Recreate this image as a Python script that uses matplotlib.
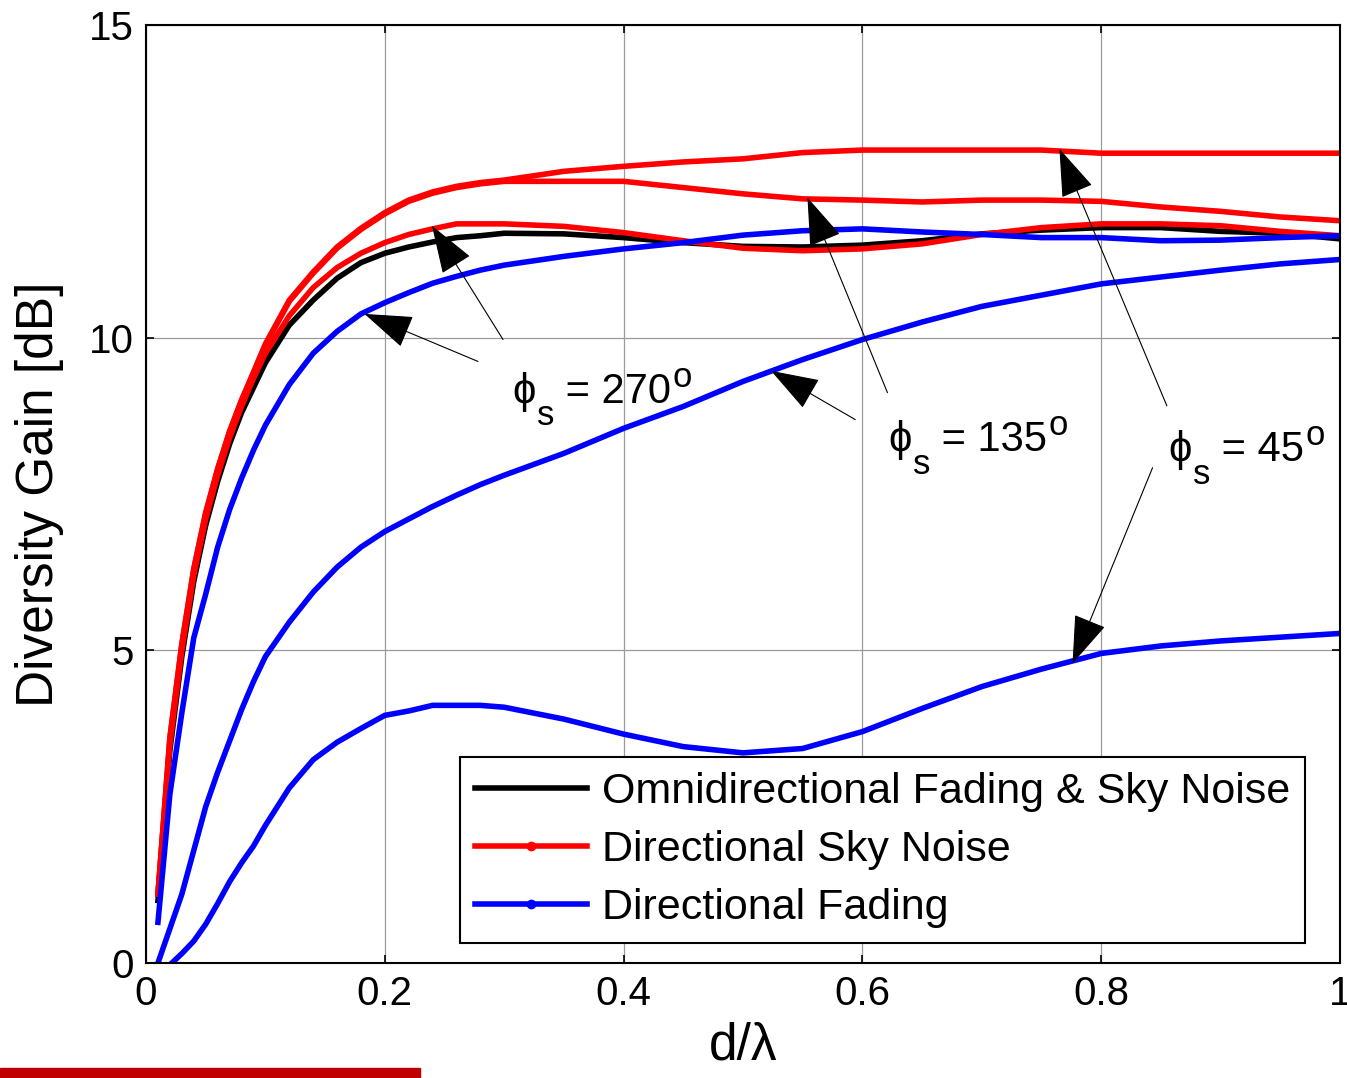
import matplotlib
matplotlib.use("Agg")
import matplotlib.pyplot as plt
from matplotlib.lines import Line2D
from matplotlib.patches import Rectangle

plt.rcParams['font.family'] = ['Liberation Sans', 'DejaVu Sans']

# d/lambda sample points
d_lam = [0.01, 0.02, 0.03, 0.04, 0.05, 0.06, 0.07, 0.08, 0.09, 0.10,
         0.12, 0.14, 0.16, 0.18, 0.20, 0.22, 0.24, 0.26, 0.28, 0.30,
         0.35, 0.40, 0.45, 0.50, 0.55, 0.60, 0.65, 0.70, 0.75, 0.80,
         0.85, 0.90, 0.95, 1.00]

# diversity gain [dB]
omni = [1.0, 3.4, 4.9, 6.1, 7.0, 7.7, 8.3, 8.8, 9.2, 9.6,
        10.2, 10.6, 10.95, 11.2, 11.35, 11.45, 11.53, 11.6, 11.63, 11.67,
        11.66, 11.6, 11.52, 11.46, 11.45, 11.48, 11.55, 11.66, 11.72, 11.76,
        11.76, 11.7, 11.67, 11.58]

sky_45 = [1.1, 3.6, 5.1, 6.3, 7.2, 7.9, 8.5, 9.0, 9.45, 9.9,
          10.6, 11.05, 11.45, 11.75, 12.0, 12.2, 12.33, 12.42, 12.48, 12.52,
          12.66, 12.74, 12.81, 12.86, 12.96, 13.0, 13.0, 13.0, 13.0, 12.95,
          12.95, 12.95, 12.95, 12.95]
sky_135 = [1.1, 3.6, 5.1, 6.3, 7.2, 7.9, 8.5, 9.0, 9.43, 9.88,
           10.58, 11.03, 11.43, 11.73, 11.98, 12.18, 12.31, 12.4, 12.46, 12.5,
           12.5, 12.5, 12.4, 12.3, 12.22, 12.2, 12.17, 12.2, 12.2, 12.18,
           12.09, 12.02, 11.93, 11.87]
sky_270 = [1.1, 3.5, 5.0, 6.2, 7.1, 7.8, 8.4, 8.9, 9.35, 9.75,
           10.35, 10.8, 11.12, 11.35, 11.52, 11.65, 11.74, 11.82, 11.82, 11.82,
           11.78, 11.68, 11.55, 11.43, 11.39, 11.42, 11.5, 11.65, 11.76, 11.82,
           11.82, 11.79, 11.7, 11.63]

fad_45 = [-0.25, -0.03, 0.15, 0.35, 0.62, 0.95, 1.3, 1.6, 1.87, 2.2,
          2.8, 3.25, 3.53, 3.75, 3.96, 4.03, 4.12, 4.12, 4.12, 4.09,
          3.9, 3.66, 3.46, 3.36, 3.43, 3.7, 4.07, 4.42, 4.7, 4.95,
          5.07, 5.15, 5.21, 5.27]
fad_135 = [0.0, 0.55, 1.1, 1.8, 2.5, 3.05, 3.55, 4.05, 4.5, 4.9,
           5.45, 5.93, 6.33, 6.65, 6.9, 7.1, 7.3, 7.48, 7.65, 7.8,
           8.15, 8.55, 8.9, 9.3, 9.65, 9.97, 10.25, 10.5, 10.68, 10.86,
           10.97, 11.08, 11.18, 11.25]
fad_270 = [0.65, 2.7, 4.0, 5.2, 5.9, 6.65, 7.25, 7.75, 8.2, 8.6,
           9.25, 9.75, 10.1, 10.38, 10.56, 10.72, 10.87, 10.98, 11.08, 11.16,
           11.3, 11.42, 11.52, 11.64, 11.71, 11.74, 11.69, 11.65, 11.6, 11.6,
           11.55, 11.56, 11.6, 11.63]

legend_labels = ['Omnidirectional Fading & Sky Noise', 'Directional Sky Noise', 'Directional Fading']

fig = plt.figure(figsize=(13.47, 10.78), dpi=100)
ax = fig.add_axes([0.1084, 0.1067, 0.8864, 0.8701])

lw = 4
ax.plot(d_lam, omni, color='black', lw=lw)
for y in (sky_45, sky_135, sky_270):
    ax.plot(d_lam, y, color='#ff0000', lw=lw)
for y in (fad_45, fad_135, fad_270):
    ax.plot(d_lam, y, color='#0000ff', lw=lw)

ax.set_xlim(0, 1)
ax.set_ylim(0, 15)
ax.set_xticks([0, 0.2, 0.4, 0.6, 0.8, 1])
ax.set_xticklabels(['0', '0.2', '0.4', '0.6', '0.8', '1'])
ax.set_yticks([0, 5, 10, 15])
ax.grid(True, color='#9a9a9a', lw=0.9)
ax.tick_params(direction='in', length=6, width=1.2, labelsize=29, pad=9,
               top=True, right=True)
for s in ax.spines.values():
    s.set_linewidth(1.5)

ax.set_xlabel('d/λ', fontsize=37, labelpad=6)
ax.set_ylabel('Diversity Gain [dB]', fontsize=37, labelpad=18)

# annotations
arrow = dict(arrowstyle='-|>,head_length=1.3,head_width=0.45', color='black',
             lw=0.8, mutation_scale=24, shrinkA=0, shrinkB=0)


def phi_label(x, y, deg):
    # MATLAB style: big subscript s and superscript o
    t1 = ax.text(x, y, 'ϕ', fontsize=30, va='baseline')
    t2 = ax.annotate('s', xy=(1, 0), xycoords=t1, xytext=(1, -3),
                     textcoords='offset points', fontsize=25, va='center')
    t3 = ax.annotate(' = ' + deg, xy=(1, 0), xycoords=(t2, t1), fontsize=30,
                     va='bottom')
    ax.annotate('o', xy=(1, 1), xycoords=t3, xytext=(1, 8),
                textcoords='offset points', fontsize=25, va='top')


phi_label(0.3065, 8.96, '270')
ax.annotate('', xy=(0.183, 10.38), xytext=(0.278, 9.62), arrowprops=arrow)
ax.annotate('', xy=(0.2395, 11.79), xytext=(0.299, 9.97), arrowprops=arrow)

phi_label(0.6214, 8.19, '135')
ax.annotate('', xy=(0.5235, 9.47), xytext=(0.594, 8.69), arrowprops=arrow)
ax.annotate('', xy=(0.554, 12.24), xytext=(0.621, 9.12), arrowprops=arrow)

phi_label(0.856, 8.03, '45')
ax.annotate('', xy=(0.765, 13.02), xytext=(0.855, 8.91), arrowprops=arrow)
ax.annotate('', xy=(0.776, 4.79), xytext=(0.843, 7.92), arrowprops=arrow)

handles = [
    Line2D([], [], color='black', lw=lw),
    Line2D([], [], color='#ff0000', lw=lw, marker='o', markersize=6),
    Line2D([], [], color='#0000ff', lw=lw, marker='o', markersize=6),
]
leg = ax.legend(handles, legend_labels, loc='lower left', bbox_to_anchor=(0.263, 0.021),
                fontsize=31, fancybox=False, framealpha=1, edgecolor='black',
                handlelength=2.6, handletextpad=0.35, labelspacing=0.42,
                borderpad=0.35, borderaxespad=0, numpoints=1)
leg.get_frame().set_linewidth(1.5)

fig.patches.append(Rectangle((0, 0), 420 / 1347, 10 / 1078, transform=fig.transFigure,
                             color='#c00000'))

fig.savefig('out.png', dpi=100)
